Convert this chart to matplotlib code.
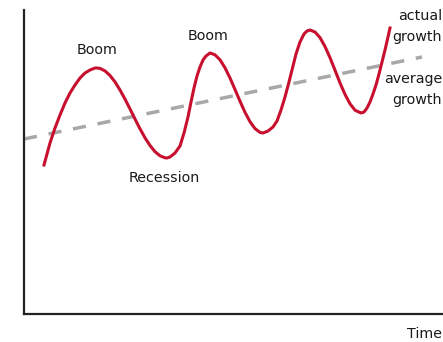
import matplotlib
matplotlib.use('Agg')
import matplotlib.pyplot as plt

# actual growth path (time, output)
time = [20, 23, 26, 31, 36, 41, 46, 51, 56, 61, 66, 71, 73,
        76, 81, 86, 91, 96, 101, 106, 111, 116, 121, 126, 131, 136, 141, 143,
        146, 151, 156, 160, 164, 167, 170, 173, 176, 179, 182, 186,
        191, 196, 201, 206, 211, 216, 221, 226, 231, 236, 239,
        244, 249, 253, 257, 261, 265, 268, 272, 276, 280, 283, 286,
        291, 296, 301, 306, 311, 316, 321, 326, 331, 337,
        340, 343, 346, 349, 352, 355, 358, 361, 364, 366]
output = [149, 160, 171, 186, 199, 211, 221, 229, 236, 241, 244, 246, 246,
          245.6, 243.1, 238.5, 232.1, 224, 214.9, 205.1, 195, 185.2, 176.2,
          168.5, 162.3, 158.2, 156.2, 156,
          157, 161, 168, 181, 197, 212, 226, 238, 247, 254, 258, 261,
          259.2, 254.2, 246.2, 236, 224.5, 212.8, 201.7, 192.3, 185.4, 181.6, 181,
          183, 187, 193, 204, 217, 232, 244, 260, 272, 280, 283, 284,
          282, 276.4, 267.5, 256.3, 243.8, 231.1, 219.6, 210.2, 203.8, 201,
          202, 206, 212, 220, 229, 240, 252, 264, 277, 286]

# average growth trend
trend_time = [0, 398]
trend_output = [175, 257]

labels = ['Boom', 'Boom', 'Recession']
label_x = [73, 184, 140]
label_y = [264, 278, 136]

plt.rcParams['font.family'] = ['DejaVu Sans']

fig = plt.figure(figsize=(4.43, 3.42), dpi=100)
ax = fig.add_axes([24 / 443, 28 / 342, 419 / 443, 304 / 342])

ax.plot(trend_time, trend_output, color='#a8a8a8', lw=2.5,
        dashes=(3.8, 3.4), solid_capstyle='butt')
ax.plot(time, output, color='#c8102e', lw=2.2, solid_joinstyle='round')

txt = dict(fontsize=10.3, color='#1a1a1a')
for t, x, y in zip(labels, label_x, label_y):
    ax.text(x, y, t, ha='center', va='center', **txt)

ax.text(418, 298, 'actual', ha='right', va='center', **txt)
ax.text(418, 277, 'growth', ha='right', va='center', **txt)
ax.text(418, 235, 'average', ha='right', va='center', **txt)
ax.text(418, 214, 'growth', ha='right', va='center', **txt)
ax.text(418, -20, 'Time', ha='right', va='center', clip_on=False, **txt)

ax.set_xlim(0, 419)
ax.set_ylim(0, 304)
for s in ['top', 'right']:
    ax.spines[s].set_visible(False)
for s in ['left', 'bottom']:
    ax.spines[s].set_linewidth(1.6)
    ax.spines[s].set_color('#222222')
ax.set_xticks([])
ax.set_yticks([])

fig.savefig('out.png', dpi=100)
